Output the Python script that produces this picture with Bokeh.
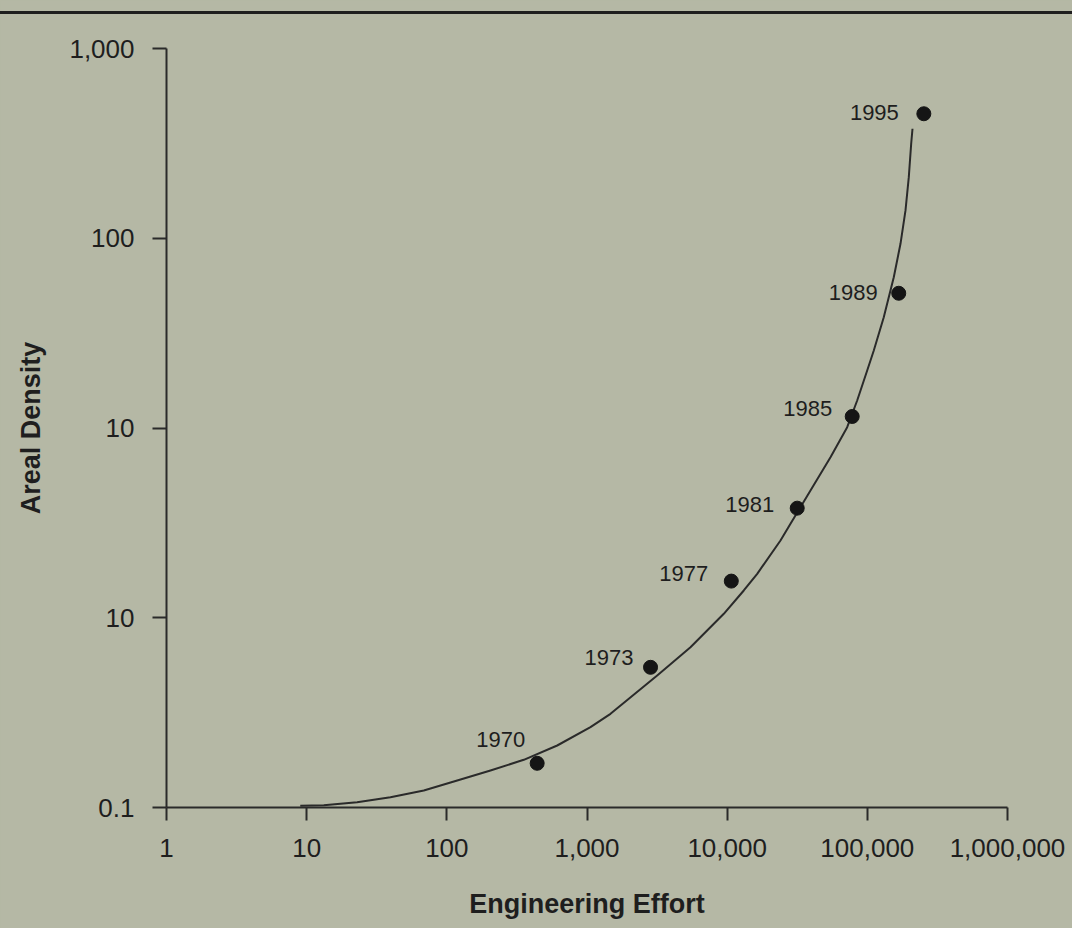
from bokeh.plotting import figure
from bokeh.models import ColumnDataSource, FixedTicker, GlobalInlineStyleSheet
from bokeh.embed import file_html
from bokeh.resources import INLINE
from bokeh.core.properties import value

# ---- data ----
years = ["1970", "1973", "1977", "1981", "1985", "1989", "1995"]
effort = [441, 2840, 10700, 31600, 78000, 167500, 253000]
density = [0.171, 0.548, 1.56, 3.78, 11.5, 51.3, 453]

# hand-drawn trend curve
curve_effort = [9.0, 13.25, 22.9, 39.6, 68.5, 118.6, 204.8, 354, 613, 1059,
                1471, 3168, 5474, 9461, 13140, 16380, 24010, 28300,
                39300, 54600, 71830, 84640, 99770, 111200, 131000, 154400,
                172400, 187200, 197600, 205500, 210000]
curve_density = [0.1021, 0.1028, 0.1066, 0.1133, 0.1229, 0.1388, 0.1567,
                 0.1784, 0.2122, 0.265, 0.3117, 0.4963, 0.6996, 1.049,
                 1.392, 1.704, 2.554, 3.127, 4.684, 7.018, 10.1, 13.96, 20.09,
                 25.61, 38.36, 62.34, 93.48, 140.1, 209.8, 314.6, 377.5]

x_ticks = [1, 10, 100, 1000, 10000, 100000, 1000000]
x_tick_labels = ["1", "10", "100", "1,000", "10,000", "100,000", "1,000,000"]
y_ticks = [0.1, 1, 10, 100, 1000]
y_tick_labels = ["0.1", "10", "10", "100", "1,000"]

# label placement (screen pixels relative to each point)
label_dx = [-12, -17, -23, -23, -20, -21, -25]
label_dy = [-24, -10, -8, -4, -8, -1, -1]

BG = "#b5b8a5"
INK = "#1e1e1e"
FONT = "Liberation Sans"

page_css = GlobalInlineStyleSheet(css=(
    f"html, body {{ background: {BG}; overflow: hidden; }}\n"
    f"body::before {{ content: ''; position: fixed; left: 0; right: 0; top: 11px;"
    f" height: 3px; background: {INK}; z-index: 1000; }}"
))

p = figure(
    x_axis_type="log", y_axis_type="log",
    x_range=(1, 1000000), y_range=(0.1, 1000),
    frame_width=841, frame_height=759,
    min_border_left=166, min_border_right=65,
    min_border_top=48, min_border_bottom=121,
    output_backend="svg", toolbar_location=None,
    background_fill_color=BG, border_fill_color=BG,
    x_axis_label="Engineering Effort", y_axis_label="Areal Density",
)
p.stylesheets.append(page_css)
p.outline_line_color = None
p.xgrid.visible = False
p.ygrid.visible = False

p.xaxis.ticker = FixedTicker(ticks=x_ticks)
p.xaxis.major_label_overrides = dict(zip(x_ticks, x_tick_labels))
p.yaxis.ticker = FixedTicker(ticks=y_ticks)
p.yaxis.major_label_overrides = dict(zip(y_ticks, y_tick_labels))

for ax in (p.xaxis[0], p.yaxis[0]):
    ax.axis_line_width = 2
    ax.axis_line_color = "#2a2a2a"
    ax.major_tick_line_width = 2
    ax.major_tick_line_color = "#2a2a2a"
    ax.major_tick_in = 0
    ax.minor_tick_line_color = None
    ax.major_label_text_font = FONT
    ax.major_label_text_font_size = "26px"
    ax.major_label_text_color = INK
    ax.axis_label_text_font = FONT
    ax.axis_label_text_font_style = "bold"
    ax.axis_label_text_font_size = "27px"
    ax.axis_label_text_color = INK

p.xaxis.major_tick_out = 13
p.xaxis.major_label_standoff = 18
p.xaxis.axis_label_standoff = 29
p.yaxis.major_tick_out = 14
p.yaxis.major_label_standoff = 18
p.yaxis.axis_label_standoff = 20

curve_src = ColumnDataSource(dict(x=curve_effort, y=curve_density))
p.line("x", "y", source=curve_src, line_width=2, line_color="#2a2a2a",
       line_join="round")

pts = ColumnDataSource(dict(x=effort, y=density, year=years, dx=label_dx, dy=label_dy))
p.scatter("x", "y", source=pts, size=14, fill_color="#151515", line_color="#151515")
p.text("x", "y", text="year", source=pts, x_offset="dx", y_offset="dy",
       text_align="right", text_baseline="middle",
       text_font=value(FONT), text_font_size="22px", text_color=INK)

open("out.html", "w").write(file_html(p, INLINE))
